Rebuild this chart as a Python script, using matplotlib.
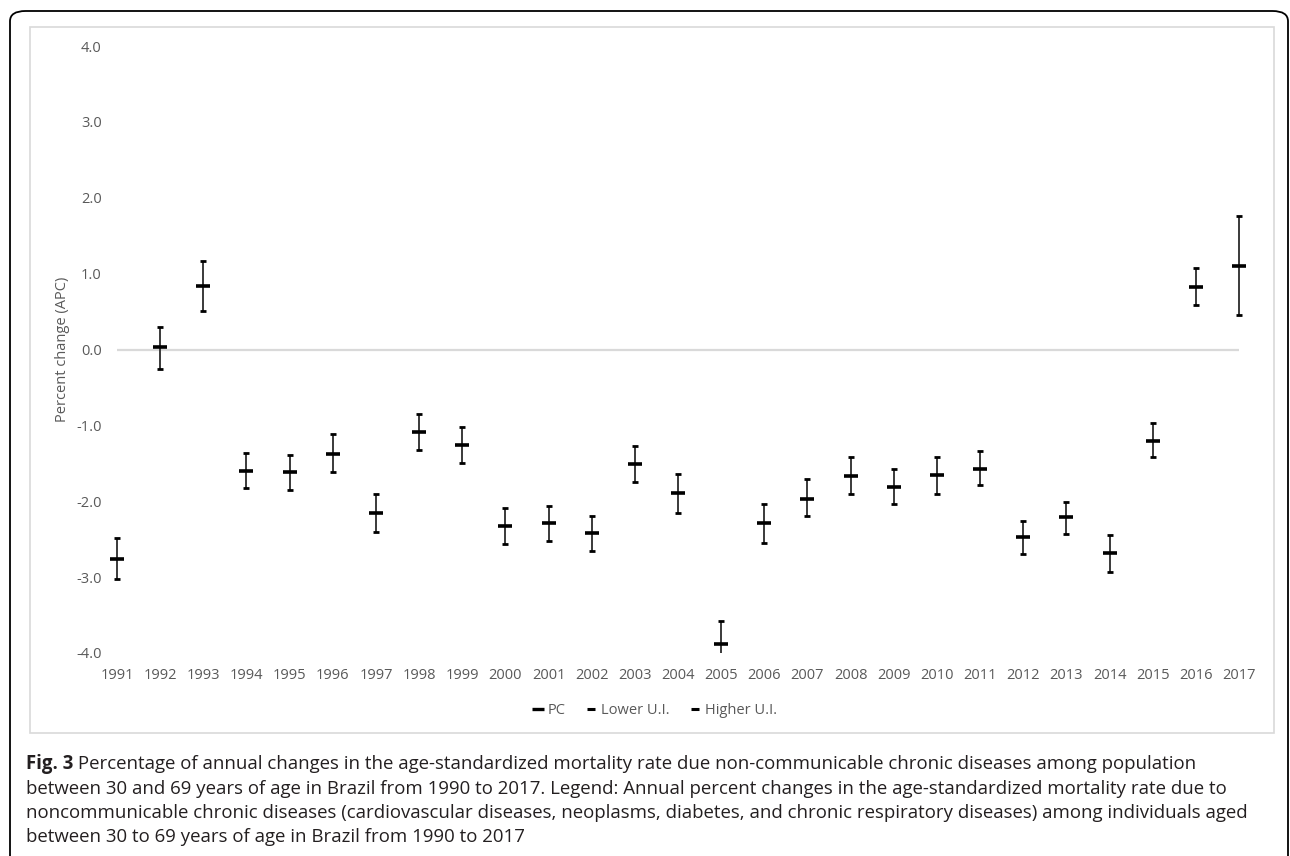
import numpy as np
import matplotlib
matplotlib.use("Agg")
import matplotlib.pyplot as plt
from matplotlib.patches import Rectangle, FancyBboxPatch
from matplotlib.lines import Line2D

years = [str(y) for y in range(1991, 2018)]
pc = [-2.76, 0.03, 0.84, -1.60, -1.61, -1.38, -2.15, -1.09, -1.26, -2.33, -2.29, -2.42, -1.51,
      -1.89, -3.88, -2.29, -1.97, -1.67, -1.81, -1.65, -1.57, -2.47, -2.21, -2.68, -1.20, 0.83, 1.10]
lower_ui = [-3.02, -0.26, 0.51, -1.83, -1.85, -1.61, -2.41, -1.33, -1.50, -2.56, -2.53, -2.66, -1.75,
            -2.15, -4.10, -2.55, -2.19, -1.91, -2.04, -1.90, -1.79, -2.70, -2.43, -2.93, -1.42, 0.59, 0.46]
higher_ui = [-2.49, 0.30, 1.17, -1.37, -1.39, -1.12, -1.91, -0.85, -1.02, -2.09, -2.06, -2.19, -1.27,
             -1.64, -3.58, -2.04, -1.71, -1.42, -1.58, -1.42, -1.34, -2.26, -2.01, -2.45, -0.97, 1.07, 1.76]
yticks = [-4.0, -3.0, -2.0, -1.0, 0.0, 1.0, 2.0, 3.0, 4.0]
legend_labels = ["PC", "Lower U.I.", "Higher U.I."]
caption_bold = "Fig. 3"
caption_lines = [
    " Percentage of annual changes in the age-standardized mortality rate due non-communicable chronic diseases among population",
    "between 30 and 69 years of age in Brazil from 1990 to 2017. Legend: Annual percent changes in the age-standardized mortality rate due to",
    "noncommunicable chronic diseases (cardiovascular diseases, neoplasms, diabetes, and chronic respiratory diseases) among individuals aged",
    "between 30 to 69 years of age in Brazil from 1990 to 2017",
]

W, H = 1290, 856
plt.rcParams['font.family'] = ['Open Sans', 'DejaVu Sans']
fig = plt.figure(figsize=(W / 100, H / 100), dpi=100)

def fx(px):
    return px / W

def fy(py):
    return 1 - py / H

# outer rounded frame
frame = FancyBboxPatch((fx(10), fy(880)), fx(1288) - fx(10), fy(11) - fy(880),
                       boxstyle="round,pad=0,rounding_size=0.012",
                       transform=fig.transFigure, fill=False, edgecolor='black',
                       linewidth=1.3, clip_on=False)
fig.patches.append(frame)

# chart area border
border = Rectangle((fx(30), fy(733)), fx(1274) - fx(30), fy(27) - fy(733),
                   transform=fig.transFigure, fill=False, edgecolor='#d9d9d9', linewidth=1.2)
fig.patches.append(border)

left, right, top, bottom = 117, 1239, 46, 653
ax = fig.add_axes([fx(left), fy(bottom), fx(right) - fx(left), fy(top) - fy(bottom)])
ax.set_facecolor('none')
x = np.arange(len(years))
ax.set_xlim(0, len(years) - 1)
ax.set_ylim(-4.0, 4.0)
for s in ax.spines.values():
    s.set_visible(False)
ax.axhline(0, color='#d9d9d9', linewidth=1.6, zorder=1)

clip_rect = Rectangle((-0.05, 0), 1.1, 1.0, transform=ax.transAxes, visible=False)
ax.add_patch(clip_rect)

lc = ax.vlines(x, lower_ui, higher_ui, colors='#3a3a3a', linewidth=1.4, zorder=2)
lc.set_clip_path(clip_rect)
l1, = ax.plot(x, lower_ui, linestyle='none', marker='_', markersize=5.0, markeredgewidth=2.0,
              color='black', zorder=3)
l2, = ax.plot(x, higher_ui, linestyle='none', marker='_', markersize=5.0, markeredgewidth=2.0,
              color='black', zorder=3)
l3, = ax.plot(x, pc, linestyle='none', marker='_', markersize=10.5, markeredgewidth=2.6,
              color='black', zorder=4)
for a in (l1, l2, l3):
    a.set_clip_path(clip_rect)

ax.set_yticks(yticks)
ax.set_yticklabels([f"{v:.1f}" for v in yticks])
ax.set_xticks(x)
ax.set_xticklabels(years)
ax.tick_params(axis='both', length=0, labelsize=10.5, labelcolor='#595959')
ax.tick_params(axis='y', pad=11)
ax.tick_params(axis='x', pad=10.5)

fig.text(fx(62), fy((top + bottom) / 2), "Percent change (APC)", rotation=90,
         ha='center', va='center', fontsize=10.5, color='#595959')

handles = [
    Line2D([], [], linestyle='none', marker='_', markersize=8, markeredgewidth=2.4, color='black'),
    Line2D([], [], linestyle='none', marker='_', markersize=6, markeredgewidth=2.2, color='black'),
    Line2D([], [], linestyle='none', marker='_', markersize=6, markeredgewidth=2.2, color='black'),
]
fig.legend(handles, legend_labels, loc='center', bbox_to_anchor=(fx(655), fy(711)),
           ncol=3, frameon=False, fontsize=10.5, labelcolor='#595959',
           handlelength=0.7, handletextpad=0.3, columnspacing=1.4)

# caption
cap_size = 13.4
baselines = [769, 794, 818, 842]
renderer = fig.canvas.get_renderer()
tb = fig.text(fx(26), fy(baselines[0]), caption_bold, fontsize=cap_size, fontweight='bold',
              color='#231f20', ha='left', va='baseline')
bb = tb.get_window_extent(renderer=renderer)
fig.text(bb.x1 / W, fy(baselines[0]), caption_lines[0], fontsize=cap_size, color='#231f20',
         ha='left', va='baseline')
for line, yb in zip(caption_lines[1:], baselines[1:]):
    fig.text(fx(26), fy(yb), line, fontsize=cap_size, color='#231f20', ha='left', va='baseline')

fig.savefig("out.png", dpi=100)
